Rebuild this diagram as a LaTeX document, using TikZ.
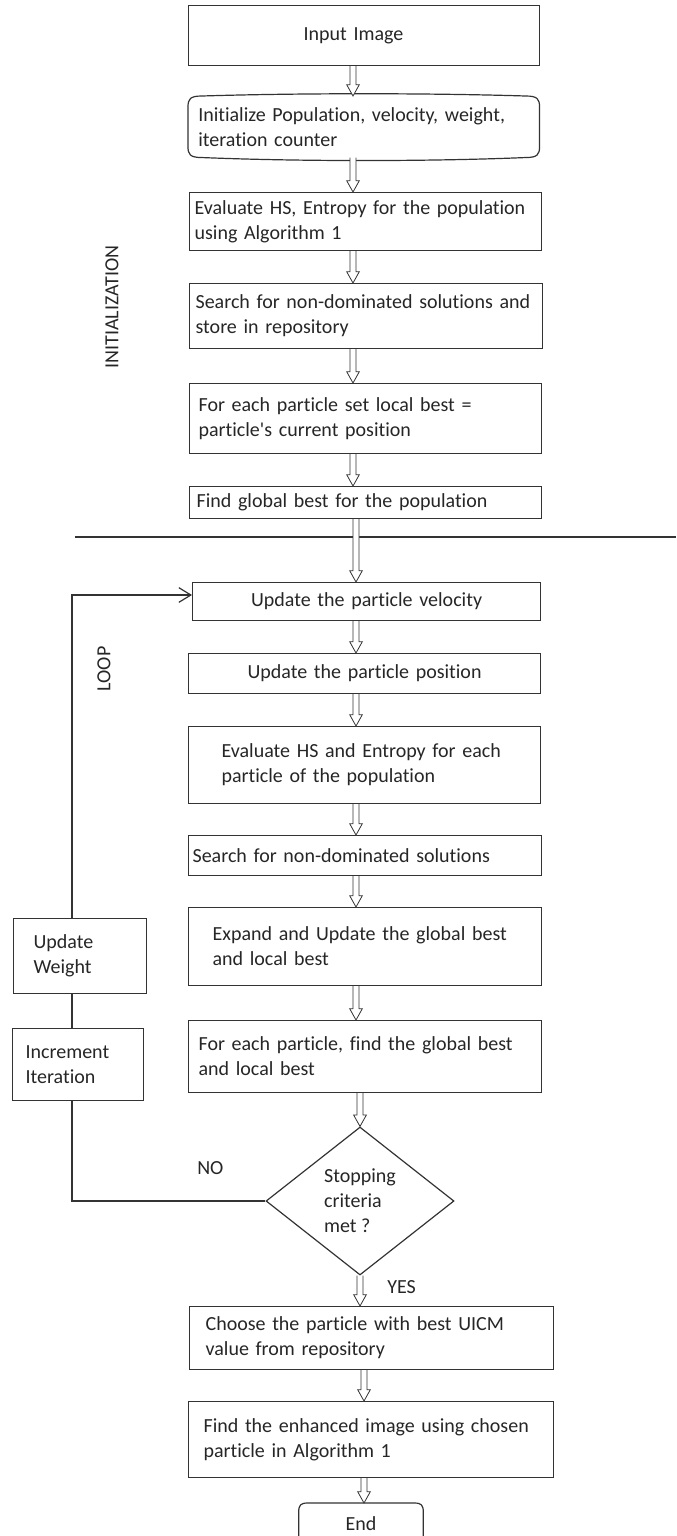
\documentclass[tikz,border=0pt]{standalone}
\usepackage{fontspec}
\setmainfont{Carlito}[Ligatures={TeX,CommonOff}]
\usetikzlibrary{shapes.geometric,arrows.meta,calc}

\tikzset{
  line/.style={draw=black!80, line width=0.9pt},
  boxfont/.style={text=black!85, font=\fontsize{15pt}{18.75pt}\selectfont},
  procbox/.style={line, rectangle, anchor=north west, align=left, inner ysep=0pt, boxfont},
  bare/.style={rectangle, anchor=north west, align=left, inner ysep=0pt, boxfont},
  decision/.style={diamond, line, aspect=1.27, inner sep=0pt, minimum width=141pt, minimum height=111pt, align=left, boxfont},
  sidetext/.style={inner sep=0pt, boxfont},
  hollowarrow/.style={draw=black!80, line width=0.6pt, fill=white, to path={
    let \p1=(\tikztostart), \p2=(\tikztotarget) in
    (\x1-2.25pt,\y1) -- (\x1-2.25pt,\y2+8.5pt) -- (\x1-4.75pt,\y2+8.5pt) -- (\x1,\y2)
    -- (\x1+4.75pt,\y2+8.5pt) -- (\x1+2.25pt,\y2+8.5pt) -- (\x1+2.25pt,\y1)}}
}

\begin{document}
\begin{tikzpicture}[x=0.75pt,y=-0.75pt]
    \useasboundingbox (0,0) rectangle (676,1536);
    % Arrow columns
    \coordinate (colA) at (353,0);
    \coordinate (colB) at (356,0);
    \coordinate (colC) at (360,0);
    \coordinate (colD) at (364,0);
    \coordinate (loopnw) at (72,595);

    % Rectangles
    \draw (188,5) node [procbox, minimum height=45pt, text width=90.75pt, inner xsep=86.25pt] (inp) {Input Image};
    \draw (188,96) node [bare, minimum height=45.75pt, text width=248.25pt, inner xsep=7.5pt] (init) {Initialize Population, velocity, weight,\\iteration counter};
    \draw (189,192) node [procbox, minimum height=43.5pt, text width=256.5pt, inner xsep=3.75pt] (evalhs) {Evaluate HS, Entropy for the population\\using Algorithm 1};
    \draw (189,283) node [procbox, minimum height=48.75pt, text width=255.75pt, inner xsep=4.5pt] (search) {Search for non-dominated solutions and\\store in repository};
    \draw (189,383) node [procbox, minimum height=52.5pt, text width=250.5pt, inner xsep=6.75pt] (localbest) {For each particle set local best =\\particle\textquotesingle s current position};
    \draw (189,486) node [procbox, minimum height=24pt, text width=253.5pt, inner xsep=5.25pt] (globalbest) {Find global best for the population};
    \draw (192,582) node [procbox, align=center, minimum height=28.5pt, text width=255pt, inner xsep=3pt] (updvel) {Update the particle velocity};
    \draw (188,653) node [procbox, align=center, minimum height=30pt, text width=258pt, inner xsep=3pt] (updpos) {Update the particle position};
    \draw (188,726) node [procbox, minimum height=57.75pt, text width=214.5pt, inner xsep=24.75pt] (evalpart) {Evaluate HS and Entropy for each\\particle of the population};
    \draw (188,835) node [procbox, minimum height=30pt, text width=258.75pt, inner xsep=3pt] (nondom) {Search for non-dominated solutions};
    \draw (188,907) node [procbox, minimum height=58.5pt, text width=228.75pt, inner xsep=18pt] (expand) {Expand and Update the global best\\and local best};
    \draw (188,1020) node [procbox, minimum height=54pt, text width=249.75pt, inner xsep=7.5pt] (findbest) {For each particle, find the global best\\and local best};
    \draw (360,1201) node [decision] (stopcrit) {Stopping\\criteria\\met ?};
    \draw (189,1306) node [procbox, minimum height=47.25pt, text width=249pt, inner xsep=12pt] (choose) {Choose the particle with best UICM\\value from repository};
    \draw (188,1401) node [procbox, minimum height=57pt, text width=251.25pt, inner xsep=11.25pt] (enhance) {Find the enhanced image using chosen\\particle in Algorithm 1};
    \draw (361,1503) node [bare, anchor=north, align=center, minimum width=93pt, minimum height=30pt] (stopend) {End};
    \draw (13,918) node [procbox, minimum height=56.25pt, text width=69.75pt, inner xsep=15pt] (updweight) {Update\\Weight};
    \draw (12,1028) node [procbox, minimum height=54pt, text width=78.75pt, inner xsep=9.75pt] (incriter) {Increment\\Iteration};

    % Rounded ends
    \draw [line] ($(init.north west)+(14,0)$) .. controls ($(init.north west)+(2,0)$) and ($(init.north west)+(0,3)$) .. ($(init.north west)+(0,11)$)
      -- ($(init.south west)+(0,-11)$) .. controls ($(init.south west)+(0,-3)$) and ($(init.south west)+(2,0)$) .. ($(init.south west)+(14,0)$)
      .. controls ($(init.south west)+(110,4)$) and ($(init.south east)+(-110,4)$) .. ($(init.south east)+(-14,0)$)
      .. controls ($(init.south east)+(-2,0)$) and ($(init.south east)+(0,-3)$) .. ($(init.south east)+(0,-11)$)
      -- ($(init.north east)+(0,11)$) .. controls ($(init.north east)+(0,3)$) and ($(init.north east)+(-2,0)$) .. ($(init.north east)+(-14,0)$)
      .. controls ($(init.north east)+(-110,-3)$) and ($(init.north west)+(110,-3)$) .. cycle;
    \draw [line] (stopend.south west) -- ($(stopend.north west)+(0,9)$) .. controls ($(stopend.north west)+(0,2)$) and ($(stopend.north west)+(2,0)$) .. ($(stopend.north west)+(9,0)$)
      -- ($(stopend.north east)+(-9,0)$) .. controls ($(stopend.north east)+(-2,0)$) and ($(stopend.north east)+(0,2)$) .. ($(stopend.north east)+(0,9)$) -- (stopend.south east);

    % Straight Lines
    \draw [line] (75,537) -- (676,537);
    \draw [line] (stopcrit.west) -- (stopcrit.west -| loopnw) -- (incriter.south -| loopnw);
    \draw [line] (incriter.north -| loopnw) -- (updweight.south -| loopnw);
    \draw [line, -{Straight Barb[length=9pt,width=11pt]}] (updweight.north -| loopnw) -- (loopnw) -- (loopnw -| updvel.west);

    % Hollow Arrows
    \draw [hollowarrow] (inp.south -| colA) to (init.north -| colA);
    \draw [hollowarrow] (init.south -| colA) to (evalhs.north -| colA);
    \draw [hollowarrow] (evalhs.south -| colA) to (search.north -| colA);
    \draw [hollowarrow] (search.south -| colA) to (localbest.north -| colA);
    \draw [hollowarrow] (localbest.south -| colA) to (globalbest.north -| colA);
    \draw [hollowarrow] (globalbest.south -| colB) to (updvel.north -| colB);
    \draw [hollowarrow] (updvel.south -| colB) to (updpos.north -| colB);
    \draw [hollowarrow] (updpos.south -| colB) to (evalpart.north -| colB);
    \draw [hollowarrow] (evalpart.south -| colB) to (nondom.north -| colB);
    \draw [hollowarrow] (nondom.south -| colB) to (expand.north -| colB);
    \draw [hollowarrow] (expand.south -| colB) to (findbest.north -| colB);
    \draw [hollowarrow] (findbest.south -| colC) to (stopcrit.north);
    \draw [hollowarrow] (stopcrit.south) to (choose.north -| colC);
    \draw [hollowarrow] (choose.south -| colD) to (enhance.north -| colD);
    \draw [hollowarrow] (enhance.south -| colD) to (stopend.north -| colD);

    % Text Nodes
    \draw (197,1168) node [sidetext, anchor=west] (lblno) {NO};
    \draw (387,1287) node [sidetext, anchor=west] (lblyes) {YES};
    \draw (104,669) node [sidetext, rotate=90] (lblloop) {LOOP};
    \draw (112,307) node [sidetext, rotate=90] (lblinit) {INITIALIZATION};
\end{tikzpicture}
\end{document}
